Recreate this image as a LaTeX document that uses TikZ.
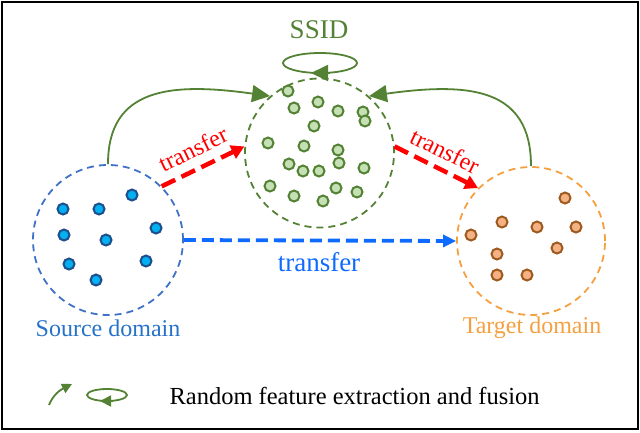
\documentclass[tikz,border=0pt]{standalone}
\usepackage{fontspec}
\setmainfont{Liberation Serif}
\usetikzlibrary{arrows.meta}
\definecolor{srcline}{HTML}{3F72C6}
\definecolor{srcfill}{HTML}{00B0F0}
\definecolor{srcedge}{HTML}{1F4E8C}
\definecolor{gline}{HTML}{548235}
\definecolor{gfill}{HTML}{C5E0B4}
\definecolor{oline}{HTML}{F5A040}
\definecolor{ofill}{HTML}{F4B183}
\definecolor{oedge}{HTML}{9E5A1E}
\definecolor{barrow}{HTML}{0F6BFF}
\definecolor{stext}{HTML}{2672C8}
\tikzset{
  dom/.style={circle, draw, dash pattern=on 7pt off 5pt, line width=1.8pt, minimum size=150pt, inner sep=0pt},
  dotp/.style={circle, draw, line width=2pt, minimum size=11pt, inner sep=0pt},
  sdot/.style={dotp, draw=srcedge, fill=srcfill},
  gdot/.style={dotp, draw=gline, fill=gfill},
  odot/.style={dotp, draw=oedge, fill=ofill},
  garrow/.style={draw=gline, line width=1.8pt, -{Triangle[length=18pt, width=17pt]}},
  redarrow/.style={draw=red, line width=4.5pt, dash pattern=on 15pt off 7pt, -{Triangle[length=13pt, width=14pt]}},
  bluearrow/.style={draw=barrow, line width=3.8pt, dash pattern=on 12pt off 6pt, -{Triangle[length=13pt, width=12pt]}},
}
\begin{document}
\begin{tikzpicture}[x=1pt, y=-1pt]
\useasboundingbox (0,0) rectangle (640,432);
\draw[line width=2pt] (1.5,1.5) rectangle (637.5,428.5);

% domains
\node[dom, draw=srcline] (src) at (108,240) {};
\node[dom, draw=gline, minimum size=149pt] (ssid) at (319.5,153) {};
\node[dom, draw=oline, minimum size=148pt] (tgt) at (531,241) {};

% labels
\node[text=gline, font=\fontsize{27}{30}\selectfont] (ssidlabel) at (319,30) {SSID};
\node[text=stext, font=\fontsize{24}{28}\selectfont] (srclabel) at (108,328) {Source domain};
\node[text=oline, font=\fontsize{24}{28}\selectfont] (tgtlabel) at (532,328) {Target domain};

% self loop
\draw[gline, line width=1.8pt] (320,63) ellipse [x radius=37, y radius=10];
\coordinate (loopA) at (330,73);
\coordinate (loopB) at (311,73);
\draw[gline, line width=1.8pt, -{Triangle[length=17pt, width=16pt]}] (loopA) -- (loopB);

% source dots
\foreach \p [count=\i] in {(132,195),(63,209),(99,209),(156,228),(64,235),(106,240),(69,264),(146,261),(96,280)}
  \node[sdot] (s\i) at \p {};
% ssid dots
\foreach \p [count=\i] in {(288,91),(294,108),(318,102),(338,111),(363,112),(365,121),(314,126),(268,143),(304,146),(338,150),(289,164),(339,163),(303,171),(319,171),(364,168),(270,186),(294,196),(323,201),(336,188),(357,192)}
  \node[gdot] (g\i) at \p {};
% target dots
\foreach \p [count=\i] in {(565,198),(502,222),(537,227),(576,227),(471,235),(557,248),(497,254),(497,275),(527,275)}
  \node[odot] (t\i) at \p {};

% green curved arrows
\draw[garrow] (src.90) .. controls (108,88) and (170,82) .. (ssid.131);
\draw[garrow] (tgt.90) .. controls (531,88) and (470,82) .. (ssid.49);

% red transfer arrows
\draw[redarrow] (src.45) -- (ssid.175);
\draw[redarrow] (ssid.5) -- (tgt.135);
\node[text=red, rotate=26, font=\fontsize{24}{28}\selectfont] (rl1) at (193,149) {transfer};
\node[text=red, rotate=-26, font=\fontsize{24}{28}\selectfont] (rl2) at (445,151) {transfer};

% blue transfer arrow
\draw[bluearrow] (src.0) -- (tgt.180);
\node[text=barrow, font=\fontsize{27}{30}\selectfont] (bl) at (319,262) {transfer};

% legend
\coordinate (legA) at (49,405);
\coordinate (legB) at (72,384);
\draw[gline, line width=1.8pt, -{Triangle[length=10pt, width=10pt]}] (legA) .. controls (53,395) and (60,390) .. (legB);
\draw[gline, line width=1.8pt] (107,395) ellipse [x radius=20, y radius=6];
\coordinate (legC) at (113,401);
\coordinate (legD) at (100,401);
\draw[gline, line width=1.8pt, -{Triangle[length=11pt, width=11pt]}] (legC) -- (legD);
\node[font=\fontsize{24.5}{28}\selectfont, anchor=west] (legtext) at (166,396) {Random feature extraction and fusion};
\end{tikzpicture}
\end{document}
